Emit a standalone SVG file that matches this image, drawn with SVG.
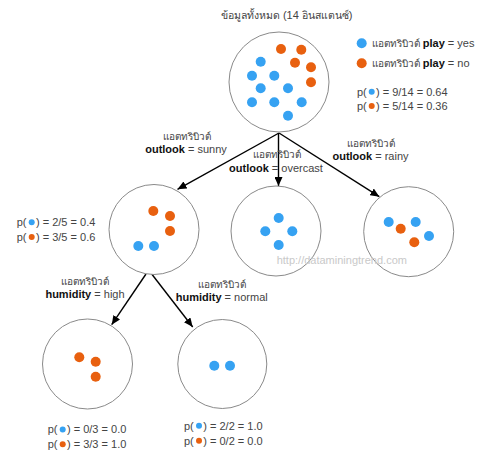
<svg xmlns="http://www.w3.org/2000/svg" width="482" height="460" viewBox="0 0 482 460">
<style>
text{font-family:"Liberation Sans","Noto Sans","DejaVu Sans",sans-serif;font-size:11px;fill:#444}
.b{font-weight:bold;fill:#111}
.th{font-size:10px}
.c{text-anchor:middle}
.node{fill:#fff;stroke:#8a8a8a;stroke-width:1}
.y{fill:#36a2f2}
.n{fill:#e8600f}
.con{stroke:#000;stroke-width:1.4;fill:none;marker-end:url(#ah)}
.wm{fill:#c9c9c9}
</style>
<defs>
<marker id="ah" markerUnits="userSpaceOnUse" markerWidth="10" markerHeight="8" refX="9" refY="4" orient="auto">
<path d="M0,0 L9,4 L0,8 Z" fill="#000"/>
</marker>
</defs>
<rect width="482" height="460" fill="#fff"/>

<g id="connectors">
<line class="con" x1="279" y1="133" x2="177.5" y2="189.3"/>
<line class="con" x1="278.5" y1="133" x2="278.5" y2="186"/>
<line class="con" x1="279" y1="133" x2="379.3" y2="196.7"/>
<line class="con" x1="146" y1="274" x2="111.7" y2="324.7"/>
<line class="con" x1="151.7" y1="274" x2="192.7" y2="327"/>
</g>

<g id="root">
<text class="c" x="286.7" y="19" style="font-size:11px"><tspan class="th" style="font-size:10.5px">ข้อมูลทั้งหมด</tspan> (14 <tspan class="th" style="font-size:10.5px">อินสแตนซ์</tspan>)</text>
<circle class="node" cx="279" cy="82" r="50"/>
<circle class="n" cx="281" cy="49" r="5"/>
<circle class="n" cx="301.3" cy="49.7" r="5"/>
<circle class="n" cx="295" cy="62.7" r="5"/>
<circle class="n" cx="311" cy="67.3" r="5"/>
<circle class="n" cx="311" cy="82.3" r="5"/>
<circle class="y" cx="260.7" cy="61.7" r="5"/>
<circle class="y" cx="252" cy="75.7" r="5"/>
<circle class="y" cx="274.3" cy="75.7" r="5"/>
<circle class="y" cx="260.7" cy="88.3" r="5"/>
<circle class="y" cx="288" cy="88.3" r="5"/>
<circle class="y" cx="252" cy="102.3" r="5"/>
<circle class="y" cx="274.3" cy="102.3" r="5"/>
<circle class="y" cx="301.7" cy="102.3" r="5"/>
<circle class="y" cx="288" cy="115.7" r="5"/>
</g>

<g id="legend">
<circle class="y" cx="361.7" cy="43.3" r="5"/>
<text x="371.7" y="47"><tspan class="th">แอตทริบิวต์</tspan> <tspan class="b">play</tspan> = yes</text>
<circle class="n" cx="361.7" cy="63.3" r="5"/>
<text x="371.7" y="67"><tspan class="th">แอตทริบิวต์</tspan> <tspan class="b">play</tspan> = no</text>
<text x="357" y="95.7">p(</text><circle class="y" cx="371.7" cy="91.7" r="3"/><text x="376" y="95.7">) = 9/14 = 0.64</text>
<text x="357" y="110">p(</text><circle class="n" cx="371.7" cy="106" r="3"/><text x="376" y="110">) = 5/14 = 0.36</text>
</g>

<g id="label-sunny">
<text class="c th" x="186.7" y="140">แอตทริบิวต์</text>
<text class="c" x="186" y="153"><tspan class="b">outlook</tspan> = sunny</text>
</g>
<g id="label-overcast">
<text class="c th" x="276.7" y="158">แอตทริบิวต์</text>
<text class="c" x="276" y="172"><tspan class="b">outlook</tspan> = overcast</text>
</g>
<g id="label-rainy">
<text class="c th" x="371" y="147">แอตทริบิวต์</text>
<text class="c" x="370.5" y="160"><tspan class="b">outlook</tspan> = rainy</text>
</g>

<g id="sunny">
<circle class="node" cx="154" cy="229.5" r="45"/>
<circle class="n" cx="153.3" cy="211" r="5"/>
<circle class="n" cx="170" cy="216" r="5"/>
<circle class="n" cx="170" cy="231" r="5"/>
<circle class="y" cx="138.3" cy="246" r="5"/>
<circle class="y" cx="154" cy="246" r="5"/>
<text x="16.7" y="226">p(</text><circle class="y" cx="31.7" cy="222.3" r="3"/><text x="36" y="226">) = 2/5 = 0.4</text>
<text x="16.7" y="241">p(</text><circle class="n" cx="31.7" cy="237" r="3"/><text x="36" y="241">) = 3/5 = 0.6</text>
</g>

<g id="overcast">
<circle class="node" cx="276" cy="231" r="45"/>
<circle class="y" cx="278.7" cy="218" r="5"/>
<circle class="y" cx="265.3" cy="231.3" r="5"/>
<circle class="y" cx="292.3" cy="231.3" r="5"/>
<circle class="y" cx="278.7" cy="245" r="5"/>
</g>

<g id="rainy">
<circle class="node" cx="408.7" cy="231.7" r="45"/>
<circle class="y" cx="388.7" cy="222" r="5"/>
<circle class="n" cx="400.7" cy="228.7" r="5"/>
<circle class="y" cx="415.7" cy="222" r="5"/>
<circle class="n" cx="414.3" cy="242.3" r="5"/>
<circle class="y" cx="429" cy="236" r="5"/>
</g>

<text class="wm" x="276.7" y="263.5">http://dataminingtrend.com</text>

<g id="label-high">
<text class="c th" x="85" y="284.7">แอตทริบิวต์</text>
<text class="c" x="85" y="298"><tspan class="b">humidity</tspan> = high</text>
</g>
<g id="label-normal">
<text class="c th" x="222" y="288">แอตทริบิวต์</text>
<text class="c" x="221.7" y="301"><tspan class="b">humidity</tspan> = normal</text>
</g>

<g id="high">
<circle class="node" cx="87.5" cy="364" r="45"/>
<circle class="n" cx="79.3" cy="357.3" r="5"/>
<circle class="n" cx="95.7" cy="361.7" r="5"/>
<circle class="n" cx="95.7" cy="376.7" r="5"/>
<text x="47.7" y="433.3">p(</text><circle class="y" cx="62.7" cy="429.5" r="3"/><text x="67" y="433.3">) = 0/3 = 0.0</text>
<text x="47.7" y="448">p(</text><circle class="n" cx="62.7" cy="444.2" r="3"/><text x="67" y="448">) = 3/3 = 1.0</text>
</g>

<g id="normal">
<circle class="node" cx="222.3" cy="364" r="44.5"/>
<circle class="y" cx="214.3" cy="365.7" r="5"/>
<circle class="y" cx="230" cy="365.7" r="5"/>
<text x="184" y="429.7">p(</text><circle class="y" cx="199" cy="425.8" r="3"/><text x="203.3" y="429.7">) = 2/2 = 1.0</text>
<text x="184" y="444.7">p(</text><circle class="n" cx="199" cy="440.8" r="3"/><text x="203.3" y="444.7">) = 0/2 = 0.0</text>
</g>
</svg>
